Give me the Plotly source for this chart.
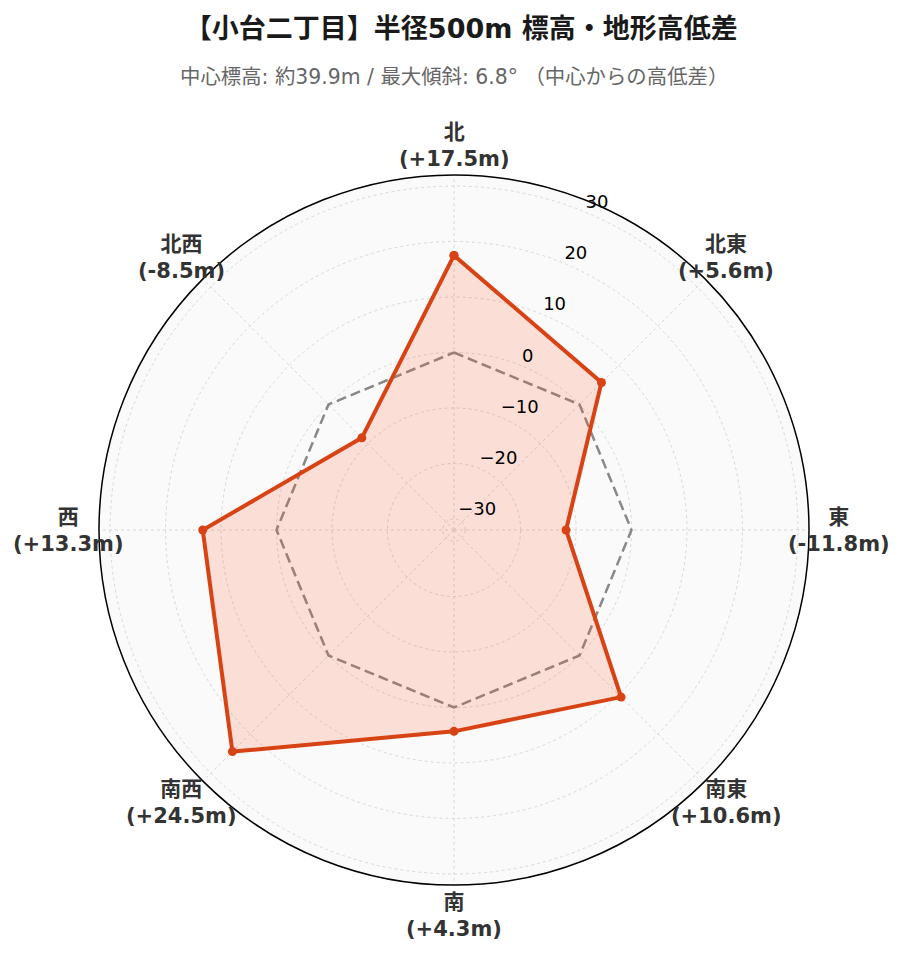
import math
import plotly.graph_objects as go

directions = ["北", "北東", "東", "南東", "南", "南西", "西", "北西"]
direction_angles = [0, 45, 90, 135, 180, 225, 270, 315]
diffs = [17.5, 5.6, -11.8, 10.6, 4.3, 24.5, 13.3, -8.5]
reference = [0, 0, 0, 0, 0, 0, 0, 0]
radial_range = [-32, 32]
radial_ticks = [-30, -20, -10, 0, 10, 20, 30]

title_text = "<b>【小台二丁目】半径500m 標高・地形高低差</b>"
subtitle_text = "中心標高: 約39.9m / 最大傾斜: 6.8° （中心からの高低差）"

FONT = "DejaVu Sans, Noto Sans CJK JP, sans-serif"
LABEL_FRAC = 385 / 710      # label distance from centre, as a fraction of the polar domain size
RADIAL_LABEL_THETA = 22.5   # direction along which radial tick labels run

dir_text = [f"<b>{d}</b><br><b>({v:+.1f}m)</b>" for d, v in zip(directions, diffs)]
radial_text = [str(v).replace("-", "\u2212") for v in radial_ticks]

theta_closed = direction_angles + [direction_angles[0]]

fig = go.Figure()
fig.add_trace(go.Scatterpolar(
    r=reference + [reference[0]],
    theta=theta_closed,
    mode="lines",
    line=dict(color="#888888", width=2.5, dash="10px,5px"),
    showlegend=False,
    hoverinfo="skip",
))
fig.add_trace(go.Scatterpolar(
    r=diffs + [diffs[0]],
    theta=theta_closed,
    mode="lines+markers",
    line=dict(color="#d84315", width=4),
    marker=dict(color="#d84315", size=9),
    fill="toself",
    fillcolor="rgba(255,87,34,0.17)",
    showlegend=False,
))
# radial tick labels
fig.add_trace(go.Scatterpolar(
    r=radial_ticks,
    theta=[RADIAL_LABEL_THETA] * len(radial_ticks),
    mode="text",
    text=radial_text,
    textposition="top right",
    textfont=dict(size=18, color="black", family=FONT),
    cliponaxis=False,
    showlegend=False,
    hoverinfo="skip",
))

annotations = [dict(
    text=subtitle_text,
    x=0.5, xref="paper", xanchor="center",
    y=(962 - 85 - 69) / 710, yref="paper", yanchor="middle",
    showarrow=False,
    font=dict(size=20.4, color="#666666", family=FONT),
)]
# direction labels, centred around the polar circle
for txt, ang in zip(dir_text, direction_angles):
    a = math.radians(ang)
    annotations.append(dict(
        text=txt,
        x=0.5 + LABEL_FRAC * math.sin(a), xref="paper", xanchor="center",
        y=0.5 + LABEL_FRAC * math.cos(a), yref="paper", yanchor="middle",
        align="center",
        showarrow=False,
        font=dict(size=21, color="#333333", family=FONT),
    ))

fig.update_layout(
    width=903,
    height=962,
    paper_bgcolor="white",
    font=dict(family=FONT),
    margin=dict(l=91, r=102, t=167, b=85),
    title=dict(
        text=title_text,
        x=0.502, xanchor="center",
        y=1 - 21 / 962, yanchor="middle", yref="container",
        font=dict(size=27, color="#1a1a1a", family=FONT),
    ),
    annotations=annotations,
    polar=dict(
        bgcolor="#fafafa",
        angularaxis=dict(
            type="linear",
            thetaunit="degrees",
            direction="clockwise",
            rotation=90,
            tickmode="array",
            tickvals=direction_angles,
            showticklabels=False,
            showline=True,
            linecolor="black",
            linewidth=1.5,
            gridcolor="#d8d8d8",
            griddash="dot",
            ticks="",
        ),
        radialaxis=dict(
            range=radial_range,
            tickmode="array",
            tickvals=radial_ticks,
            showticklabels=False,
            showline=False,
            ticks="",
            gridcolor="#d8d8d8",
            griddash="dot",
        ),
    ),
)

fig.write_html("out.html")
